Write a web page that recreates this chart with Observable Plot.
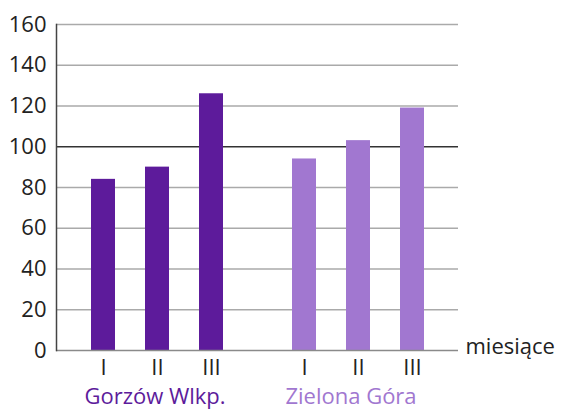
<!DOCTYPE html>
<html>
<head>
<meta charset="utf-8">
<script src="https://cdn.jsdelivr.net/npm/d3@7"></script>
<script src="https://cdn.jsdelivr.net/npm/@observablehq/plot@0.6"></script>
<style>
  html, body { margin: 0; padding: 0; background: #fff; }
  #chart svg { display: block; }
</style>
</head>
<body>
<div id="chart"></div>
<script>
const groups = ["Gorzów Wlkp.", "Zielona Góra"];
const months = ["I", "II", "III"];
const gorzowValues = [84, 90, 126];
const zielonaValues = [94, 103, 119];
const groupColors = ["#5d1b9b", "#a177d0"];
const yTicks = [0, 20, 40, 60, 80, 100, 120, 140, 160];
const xAxisTitle = "miesiące";

const seriesValues = [gorzowValues, zielonaValues];
const table = groups.flatMap((g, gi) =>
  months.map((m, mi) => ({group: g, month: m, value: seriesValues[gi][mi], color: groupColors[gi]}))
);
const labels = groups.map((g, gi) => ({group: g, color: groupColors[gi]}));

const font = "'Open Sans', sans-serif";

const chart = Plot.plot({
  width: 563,
  height: 409,
  marginLeft: 55,
  marginRight: 105,
  marginTop: 24,
  marginBottom: 59,
  style: {fontFamily: font, fontSize: "22px", background: "#fff", overflow: "visible"},
  facet: {marginTop: 0, marginBottom: 0, marginLeft: 0, marginRight: 0},
  fx: {domain: groups, padding: 0, axis: null, label: null},
  x: {domain: months, paddingInner: 0.56, paddingOuter: 0.629, axis: null, label: null},
  y: {domain: [0, 160], axis: null, label: null},
  marks: [
    Plot.ruleY(yTicks.filter(d => d !== 0 && d !== 100), {stroke: "#aaaaaa", strokeWidth: 1.5}),
    Plot.ruleY([100], {stroke: "#333333", strokeWidth: 1.5}),
    Plot.barY(table, {fx: "group", x: "month", y: "value", fill: "color"}),
    Plot.ruleY([0], {stroke: "#8a8a8a", strokeWidth: 1.5}),
    Plot.frame({anchor: "left", facetAnchor: "left", stroke: "#444444", strokeWidth: 1.5}),
    Plot.axisY({ticks: yTicks, tickSize: 0, tickPadding: 10, fontSize: 22, fontVariant: "normal", fill: "#222", label: null}),
    Plot.axisX({tickSize: 0, tickPadding: 9, fontSize: 22, fontVariant: "normal", fill: "#222", label: null}),
    Plot.text(labels.slice(0, 1), {fx: "group", text: "group", fill: "color", frameAnchor: "bottom", dy: 53, dx: -2, fontSize: 22}),
    Plot.text(labels.slice(1), {fx: "group", text: "group", fill: "color", frameAnchor: "bottom", dy: 53, dx: -7, fontSize: 22}),
    Plot.text(labels.slice(1), {fx: "group", text: () => xAxisTitle, frameAnchor: "bottom-right", textAnchor: "start", dx: 7, dy: 3, fill: "#222", fontSize: 22})
  ]
});
document.getElementById("chart").append(chart);
</script>
</body>
</html>
